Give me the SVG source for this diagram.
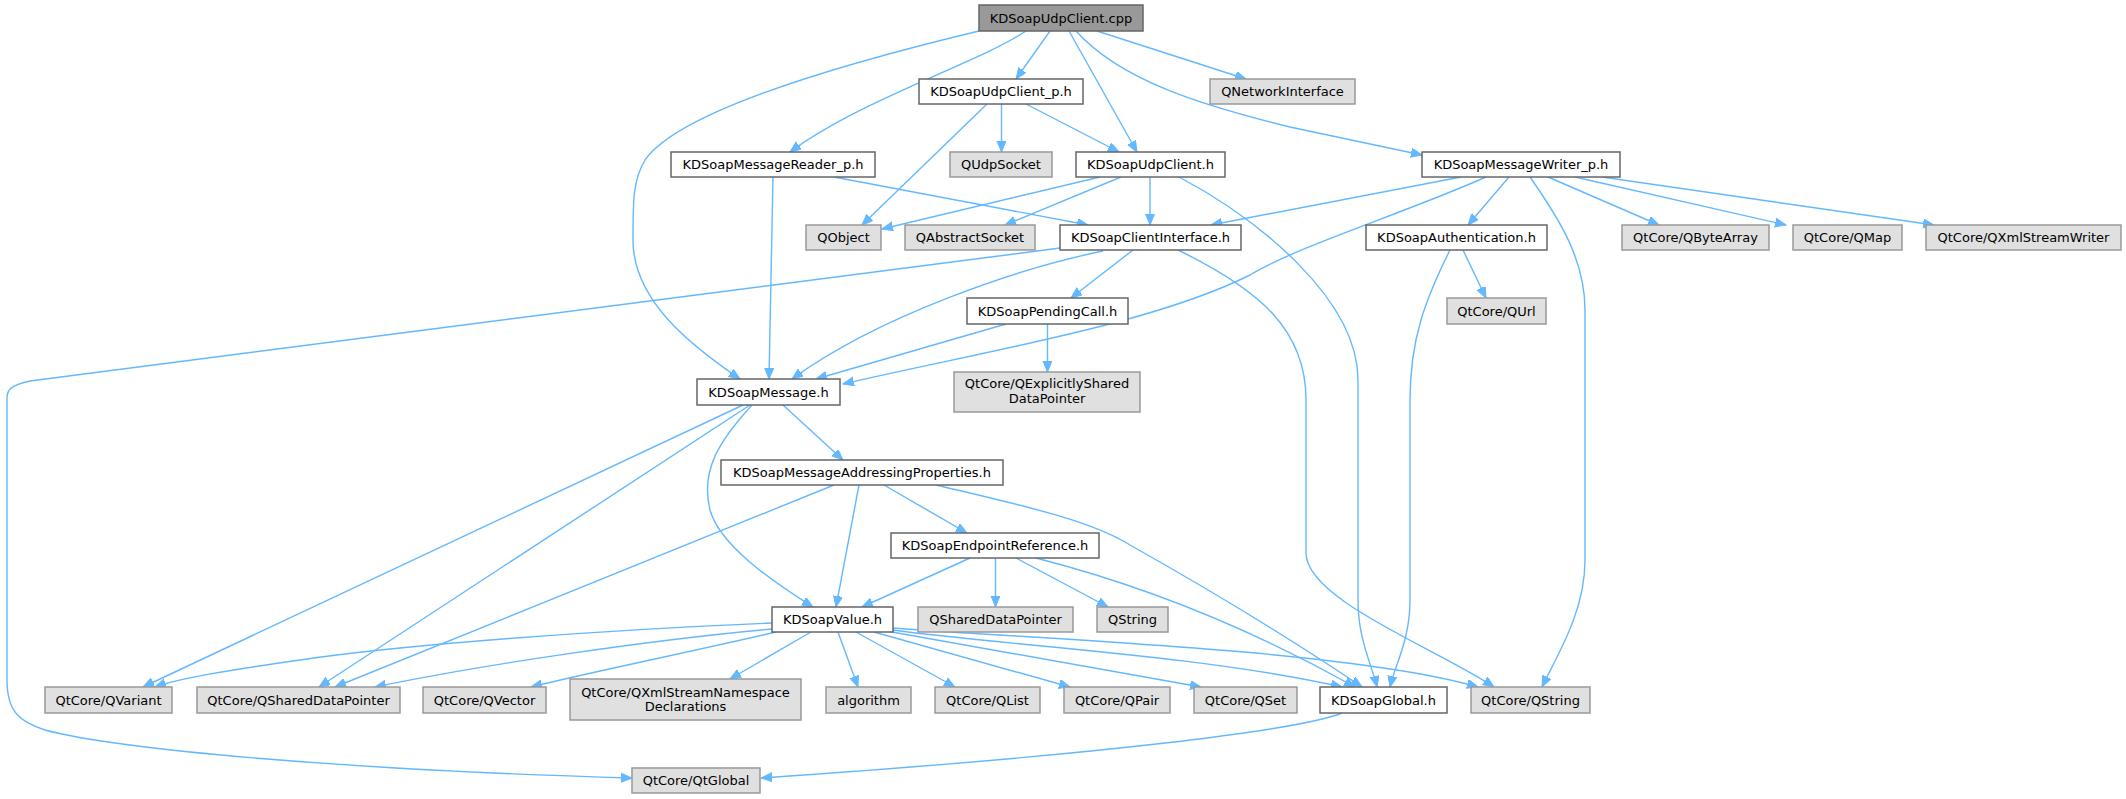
<svg xmlns="http://www.w3.org/2000/svg" width="2126" height="799" viewBox="0 0 2126 799">
<style>
.n rect{fill:#ffffff;stroke:#666666;stroke-width:1.5}
.r rect{fill:#999999;stroke:#666666;stroke-width:1.5}
.x rect{fill:#e0e0e0;stroke:#999999;stroke-width:1.5}
text{font-family:"DejaVu Sans","Liberation Sans",sans-serif;font-size:13px;fill:#000000;text-anchor:middle}
#edges path{fill:none;stroke:#63b8ff;stroke-width:1.4;marker-end:url(#a)}
</style>
<defs>
<marker id="a" markerWidth="12" markerHeight="10" refX="11" refY="4.5" orient="auto" markerUnits="userSpaceOnUse">
<path d="M0,0 L11,4.5 L0,9 z" fill="#63b8ff" stroke="#63b8ff" stroke-width="1"/>
</marker>
</defs>
<rect width="2126" height="799" fill="#ffffff"/>
<g id="edges">
<path d="M979,31 C850,62 680,110 645,160 C633,180 633,200 633,240 C633,300 690,345 740,379"/>
<path d="M1026,31 C980,62 860,100 790,152"/>
<path d="M1050,31 L1016,79"/>
<path d="M1069,31 L1137,152"/>
<path d="M1076,31 C1120,80 1200,105 1290,127 C1340,138 1385,147 1422,155"/>
<path d="M1097,31 L1246,79"/>
<path d="M987,104 L862,225"/>
<path d="M1001.5,104 L1001.5,152"/>
<path d="M1026,104 L1119,152"/>
<path d="M773,177 L769,379"/>
<path d="M834,177 L1088,225"/>
<path d="M1100,177 L882,229"/>
<path d="M1121,177 L1005,225"/>
<path d="M1150,177 L1150,225"/>
<path d="M1179,177 C1260,220 1358,300 1358,380 L1358,600 C1358,640 1372,665 1377,687"/>
<path d="M1461,177 L1211,225"/>
<path d="M1486,177 C1400,215 1300,245 1250,275 C1150,325 980,352 843,384"/>
<path d="M1509,177 L1468,225"/>
<path d="M1530,177 C1560,220 1585,260 1585,310 L1585,560 C1585,610 1560,650 1542,687"/>
<path d="M1548,177 L1659,225"/>
<path d="M1575,177 L1786,225"/>
<path d="M1602,177 L1934,225"/>
<path d="M1450,250 C1425,300 1410,340 1410,400 L1410,600 C1410,640 1395,665 1390,687"/>
<path d="M1463,250 L1486,298"/>
<path d="M1060,248 L30,381 C12,385 7,389 7,398 L7,680 C7,712 20,722 45,730 C120,750 350,770 632,778"/>
<path d="M1103,251 C1020,268 880,315 792,379"/>
<path d="M1133,250 L1071,298"/>
<path d="M1178,250 C1260,290 1306,330 1306,400 L1306,553 C1306,600 1440,650 1494,687"/>
<path d="M1006,324 L816,379"/>
<path d="M1047.5,324 L1047.5,372"/>
<path d="M783,405 L843,460"/>
<path d="M752,405 C720,440 700,470 710,510 C720,545 770,580 813,607"/>
<path d="M743,405 L143,687"/>
<path d="M750,405 L319,687"/>
<path d="M834,485 L335,687"/>
<path d="M859,485 L836,607"/>
<path d="M884,485 L967,533"/>
<path d="M936,485 C1020,505 1090,520 1130,545 C1210,590 1300,645 1362,687"/>
<path d="M970,558 L862,607"/>
<path d="M995.5,558 L995.5,607"/>
<path d="M1016,558 L1108,607"/>
<path d="M1036,558 Q1200,600 1355,687"/>
<path d="M772,623 C600,630 400,645 300,660 C230,670 180,678 155,687"/>
<path d="M772,629 C650,640 480,665 375,687"/>
<path d="M776,632 C700,650 600,670 531,687"/>
<path d="M811,632 L730,679"/>
<path d="M838,632 L858,687"/>
<path d="M856,632 L955,687"/>
<path d="M874,632 L1070,687"/>
<path d="M892,632 L1201,687"/>
<path d="M893,630 C1000,645 1200,655 1342,687"/>
<path d="M893,628 C1050,640 1350,650 1478,687"/>
<path d="M1342,713 C1300,730 1100,755 761,778"/>
</g>
<g id="n_cpp" class="r"><rect x="979" y="5" width="164" height="26"/><text x="1061" y="22.5">KDSoapUdpClient.cpp</text></g>
<g id="n_udpp" class="n"><rect x="919" y="79" width="164" height="25"/><text x="1001" y="96">KDSoapUdpClient_p.h</text></g>
<g id="n_qni" class="x"><rect x="1210" y="79" width="145" height="25"/><text x="1282.5" y="96">QNetworkInterface</text></g>
<g id="n_readerp" class="n"><rect x="671" y="152" width="204" height="25"/><text x="773" y="169">KDSoapMessageReader_p.h</text></g>
<g id="n_qudp" class="x"><rect x="950" y="152" width="102" height="25"/><text x="1001" y="169">QUdpSocket</text></g>
<g id="n_udph" class="n"><rect x="1076" y="152" width="149" height="25"/><text x="1150.5" y="169">KDSoapUdpClient.h</text></g>
<g id="n_writerp" class="n"><rect x="1422" y="152" width="198" height="25"/><text x="1521" y="169">KDSoapMessageWriter_p.h</text></g>
<g id="n_qobject" class="x"><rect x="806" y="225" width="75" height="25"/><text x="843.5" y="242">QObject</text></g>
<g id="n_qabs" class="x"><rect x="905" y="225" width="130" height="25"/><text x="970" y="242">QAbstractSocket</text></g>
<g id="n_ci" class="n"><rect x="1060" y="225" width="181" height="25"/><text x="1150.5" y="242">KDSoapClientInterface.h</text></g>
<g id="n_auth" class="n"><rect x="1366" y="225" width="181" height="25"/><text x="1456.5" y="242">KDSoapAuthentication.h</text></g>
<g id="n_qba" class="x"><rect x="1622" y="225" width="147" height="25"/><text x="1695.5" y="242">QtCore/QByteArray</text></g>
<g id="n_qmap" class="x"><rect x="1793" y="225" width="109" height="25"/><text x="1847.5" y="242">QtCore/QMap</text></g>
<g id="n_qxsw" class="x"><rect x="1926" y="225" width="195" height="25"/><text x="2023.5" y="242">QtCore/QXmlStreamWriter</text></g>
<g id="n_pc" class="n"><rect x="967" y="298" width="161" height="26"/><text x="1047.5" y="315.5">KDSoapPendingCall.h</text></g>
<g id="n_qurl" class="x"><rect x="1447" y="298" width="99" height="26"/><text x="1496.5" y="315.5">QtCore/QUrl</text></g>
<g id="n_msg" class="n"><rect x="697" y="379" width="143" height="26"/><text x="768.5" y="396.5">KDSoapMessage.h</text></g>
<g id="n_qesdp" class="x"><rect x="954" y="372" width="186" height="40"/><text x="1047" y="388">QtCore/QExplicitlyShared</text><text x="1047" y="403">DataPointer</text></g>
<g id="n_map" class="n"><rect x="721" y="460" width="282" height="25"/><text x="862" y="477">KDSoapMessageAddressingProperties.h</text></g>
<g id="n_epr" class="n"><rect x="891" y="533" width="208" height="25"/><text x="995" y="550">KDSoapEndpointReference.h</text></g>
<g id="n_val" class="n"><rect x="772" y="607" width="121" height="25"/><text x="832.5" y="624">KDSoapValue.h</text></g>
<g id="n_qsdp" class="x"><rect x="918" y="607" width="155" height="25"/><text x="995.5" y="624">QSharedDataPointer</text></g>
<g id="n_qstr" class="x"><rect x="1097" y="607" width="71" height="25"/><text x="1132.5" y="624">QString</text></g>
<g id="n_qvar" class="x"><rect x="45" y="687" width="127" height="26"/><text x="108.5" y="704.5">QtCore/QVariant</text></g>
<g id="n_qcsdp" class="x"><rect x="197" y="687" width="203" height="26"/><text x="298.5" y="704.5">QtCore/QSharedDataPointer</text></g>
<g id="n_qvec" class="x"><rect x="423" y="687" width="123" height="26"/><text x="484.5" y="704.5">QtCore/QVector</text></g>
<g id="n_qxsnd" class="x"><rect x="570" y="679" width="231" height="41"/><text x="685.5" y="696.5">QtCore/QXmlStreamNamespace</text><text x="685.5" y="711">Declarations</text></g>
<g id="n_algo" class="x"><rect x="826" y="687" width="85" height="26"/><text x="868.5" y="704.5">algorithm</text></g>
<g id="n_qlist" class="x"><rect x="935" y="687" width="105" height="26"/><text x="987.5" y="704.5">QtCore/QList</text></g>
<g id="n_qpair" class="x"><rect x="1064" y="687" width="106" height="26"/><text x="1117" y="704.5">QtCore/QPair</text></g>
<g id="n_qset" class="x"><rect x="1194" y="687" width="103" height="26"/><text x="1245.5" y="704.5">QtCore/QSet</text></g>
<g id="n_glob" class="n"><rect x="1320" y="687" width="127" height="26"/><text x="1383.5" y="704.5">KDSoapGlobal.h</text></g>
<g id="n_qcstr" class="x"><rect x="1471" y="687" width="119" height="26"/><text x="1530.5" y="704.5">QtCore/QString</text></g>
<g id="n_qtg" class="x"><rect x="632" y="768" width="128" height="25"/><text x="696" y="785">QtCore/QtGlobal</text></g>
</svg>
